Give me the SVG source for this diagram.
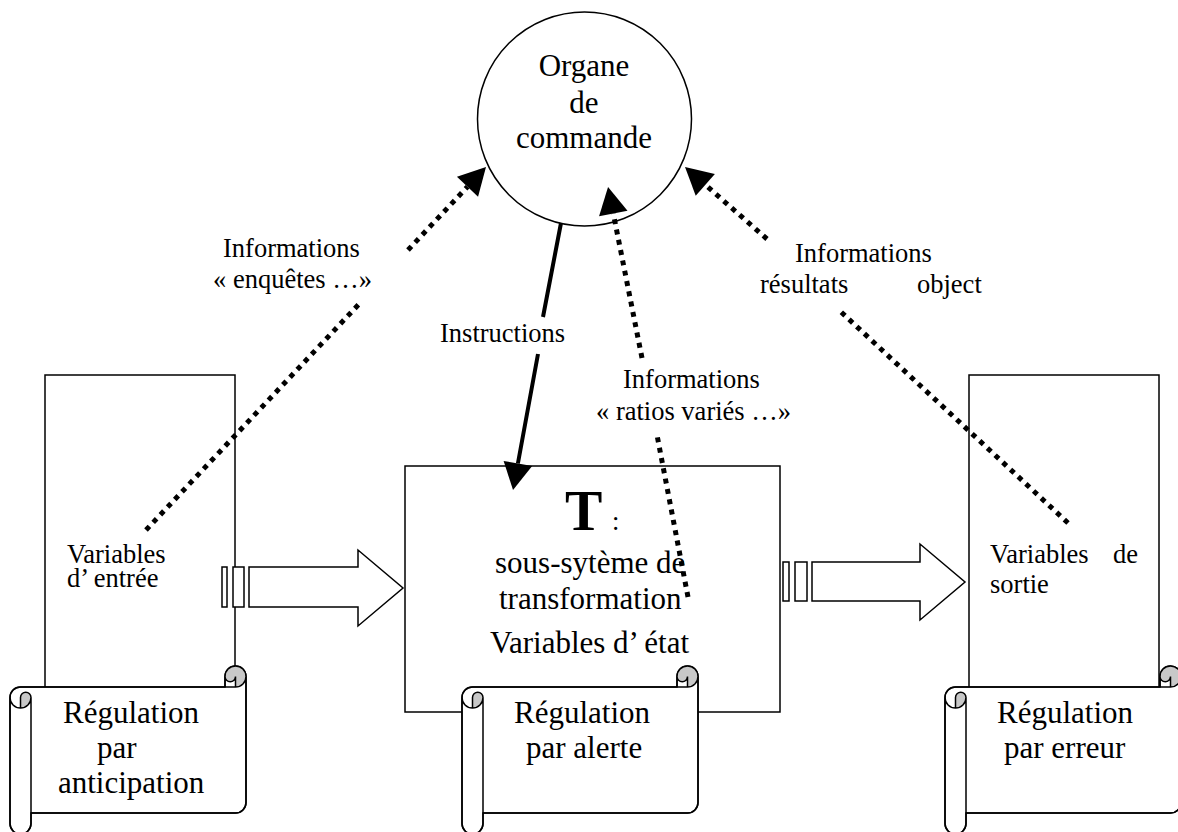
<svg xmlns="http://www.w3.org/2000/svg" width="1178" height="832" viewBox="0 0 1178 832">
  <style>
    .shape { fill: #fff; stroke: #000; stroke-width: 1.5; }
    .txt { font-family: "Liberation Serif", "Times New Roman", serif; fill: #000; }
    .big { font-size: 31px; }
    .small { font-size: 26.5px; }
    .solid { fill: none; stroke: #000; stroke-width: 4; }
    .dot { fill: none; stroke: #000; stroke-width: 5; stroke-dasharray: 5 5.5; }
    .roll { fill: none; stroke: #000; stroke-width: 1.5; }
    .curl { fill: #c8c8c8; stroke: none; }
  </style>
  <defs>
    <marker id="head" markerUnits="userSpaceOnUse" markerWidth="27" markerHeight="29" refX="0" refY="14.5" orient="auto" overflow="visible">
      <path d="M0,0 L27,14.5 L0,29 Z" fill="#000"/>
    </marker>
    <!-- horizontal scroll banner, 236 x 168, roll size 21 -->
    <g id="scroll">
      <path class="shape" d="M0,31.5 A10.5,10.5 0 0 1 10.5,21 L215,21 L215,10.5 A10.5,10.5 0 0 1 236,10.5 L236,136.5 A10.5,10.5 0 0 1 225.5,147 L21,147 L21,157.5 A10.5,10.5 0 0 1 0,157.5 Z"/>
      <path class="curl" d="M10.5,42 A10.5,10.5 0 0 0 21,31.5 A5.25,5.25 0 0 0 10.5,31.5 Z"/>
      <path class="curl" d="M225.5,21 A10.5,10.5 0 1 0 215,10.5 A5.25,5.25 0 0 0 225.5,10.5 Z"/>
      <path class="roll" d="M0,31.5 A10.5,10.5 0 0 1 10.5,21 L215,21 L215,10.5 A10.5,10.5 0 0 1 236,10.5 L236,136.5 A10.5,10.5 0 0 1 225.5,147 L21,147 L21,157.5 A10.5,10.5 0 0 1 0,157.5 Z
        M215,21 L225.5,21 A10.5,10.5 0 0 0 236,10.5
        M225.5,21 L225.5,10.5 A5.25,5.25 0 0 1 215,10.5
        M10.5,42 L10.5,31.5 A5.25,5.25 0 0 1 21,31.5 A10.5,10.5 0 0 1 0,31.5
        M21,31.5 L21,147"/>
    </g>
  </defs>

  <!-- control organ -->
  <g id="organe">
    <circle class="shape" cx="584.5" cy="119" r="107"/>
    <text class="txt big" x="584" y="76" text-anchor="middle">Organe</text>
    <text class="txt big" x="584" y="113" text-anchor="middle">de</text>
    <text class="txt big" x="584" y="148" text-anchor="middle">commande</text>
  </g>

  <!-- input variables -->
  <g id="entree">
    <rect class="shape" x="45" y="375" width="190" height="345"/>
    <text class="txt small" x="67" y="563">Variables</text>
    <text class="txt small" x="67" y="587">d’ entrée</text>
  </g>

  <!-- transformation subsystem -->
  <g id="transformation">
    <rect class="shape" x="405" y="466" width="375" height="246"/>
    <text class="txt" x="565" y="530" font-size="56" font-weight="bold">T</text>
    <text class="txt small" x="612" y="530">:</text>
    <text class="txt big" x="495" y="573">sous-sytème de</text>
    <text class="txt big" x="499" y="609">transformation</text>
    <text class="txt big" x="490" y="653">Variables d’ état</text>
  </g>

  <!-- output variables -->
  <g id="sortie">
    <rect class="shape" x="969" y="375" width="190" height="345"/>
    <text class="txt small" x="990" y="563">Variables</text>
    <text class="txt small" x="1113" y="563">de</text>
    <text class="txt small" x="990" y="593">sortie</text>
  </g>

  <!-- flow arrows -->
  <g id="flux-entree">
    <rect class="shape" x="222" y="567" width="5" height="40"/>
    <rect class="shape" x="233" y="567" width="11" height="40"/>
    <path class="shape" d="M249,567 L358,567 L358,550 L403,588 L358,626 L358,607 L249,607 Z"/>
  </g>
  <g id="flux-sortie">
    <rect class="shape" x="783" y="562" width="6" height="39"/>
    <rect class="shape" x="795" y="562" width="12" height="39"/>
    <path class="shape" d="M812,562 L920,562 L920,544 L965,582 L920,620 L920,601 L812,601 Z"/>
  </g>

  <!-- regulation banners -->
  <g id="reg-anticipation">
    <use href="#scroll" x="10" y="666"/>
    <text class="txt big" x="63" y="723">Régulation</text>
    <text class="txt big" x="97" y="758">par</text>
    <text class="txt big" x="58" y="793">anticipation</text>
  </g>
  <g id="reg-alerte">
    <use href="#scroll" x="462" y="666"/>
    <text class="txt big" x="514" y="723">Régulation</text>
    <text class="txt big" x="526" y="758">par alerte</text>
  </g>
  <g id="reg-erreur">
    <use href="#scroll" x="945" y="666"/>
    <text class="txt big" x="997" y="723">Régulation</text>
    <text class="txt big" x="1004" y="758">par erreur</text>
  </g>

  <!-- connectors -->
  <g id="connectors">
    <path class="solid" d="M561,223 L543,317 M538,354 L517.9,463.5" marker-end="url(#head)"/>
    <path class="dot" d="M146,530 L360,303 M408,250 L467.5,186.7" marker-end="url(#head)"/>
    <path class="dot" d="M688,597 L657,435 M642,358 L613.3,213.5" marker-end="url(#head)"/>
    <path class="dot" d="M1068,523 L840,311 M767,239 L705.3,184.8" marker-end="url(#head)"/>
  </g>

  <!-- connector labels -->
  <g id="labels">
    <text class="txt small" x="223" y="257">Informations</text>
    <text class="txt small" x="213" y="288">« enquêtes …»</text>
    <text class="txt small" x="440" y="342">Instructions</text>
    <text class="txt small" x="623" y="388">Informations</text>
    <text class="txt small" x="596" y="420">« ratios variés …»</text>
    <text class="txt small" x="795" y="262">Informations</text>
    <text class="txt small" x="760" y="293">résultats</text>
    <text class="txt small" x="917" y="293">object</text>
  </g>
</svg>
